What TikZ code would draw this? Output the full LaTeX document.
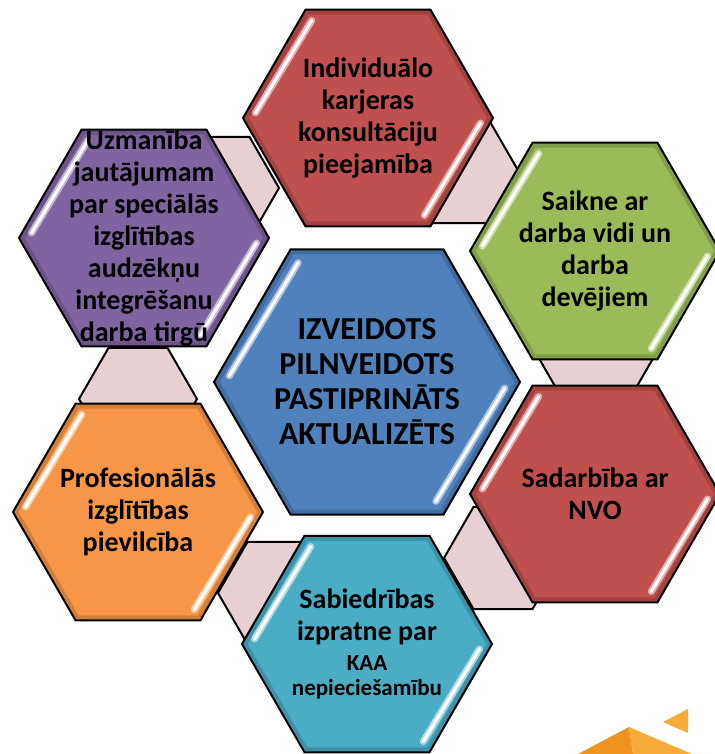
\documentclass[tikz,border=0pt]{standalone}
\usepackage{fontspec}
\setmainfont{Carlito}
\usetikzlibrary{calc}

\definecolor{hexred}{RGB}{192,80,77}
\definecolor{hexgreen}{RGB}{155,187,89}
\definecolor{hexpurple}{RGB}{128,100,162}
\definecolor{hexorange}{RGB}{247,150,70}
\definecolor{hexcyan}{RGB}{75,172,198}
\definecolor{hexblue}{RGB}{79,129,189}
\definecolor{bandpink}{RGB}{230,208,209}
\definecolor{logodark}{RGB}{240,146,30}
\definecolor{logolight}{RGB}{247,172,58}

\begin{document}
\begin{tikzpicture}[x=0.5pt,y=-0.5pt,
    hexa/.style 2 args={insert path={(#1) ++(0:#2) -- ++(120:#2) -- ++(180:#2) -- ++(240:#2) -- ++(300:#2) -- ++(0:#2) -- cycle}},
    hexline/.style={draw=black, line width=1pt},
    hextext/.style={font=\bfseries\fontsize{14}{16}\selectfont, align=center, text=black, inner sep=0pt}]
    \useasboundingbox (0,0) rectangle (714,754);

    % centres of the cells
    \coordinate (ccen) at (367,382);
    \coordinate (ctop) at (368,118);
    \coordinate (cur) at (595,251);
    \coordinate (clr) at (595,494);
    \coordinate (cbot) at (367,644);
    \coordinate (cll) at (138,512);
    \coordinate (cul) at (144,238);

    % small cells lying behind, between the outer ones
    \coordinate (b1) at (220,188);
    \coordinate (b2) at (460,172);
    \coordinate (b3) at (596,355);
    \coordinate (b4) at (503,558);
    \coordinate (b5) at (277,593);
    \coordinate (b6) at (138,399);
    \foreach \b in {b1,b2,b3,b4,b5,b6} {
        \path[hexa={\b}{59}, fill=bandpink, hexline];
    }

    \foreach \c/\col/\r in {ctop/hexred/125, cur/hexgreen/125, clr/hexred/125, cbot/hexcyan/125,
                            cll/hexorange/125, cul/hexpurple/125, ccen/hexblue/153} {
        \begin{scope}
            \clip[hexa={\c}{\r}];
            \fill[\col, hexa={\c}{\r}];
            \draw[\col!70!black, opacity=.5, line width=5pt, hexa={\c}{\r}];
        \end{scope}
        % gloss strokes
        \draw[\col!45!white, line width=3.5pt, line cap=round] ($(\c)+({-0.45*\r},{-0.78*\r})$) -- ($(\c)+({-0.9*\r},{-0.04*\r})$);
        \draw[white, line width=1.5pt, line cap=round] ($(\c)+({-0.45*\r},{-0.78*\r})$) -- ($(\c)+({-0.9*\r},{-0.04*\r})$);
        \draw[\col!45!white, line width=3.5pt, line cap=round] ($(\c)+({0.9*\r},{0.04*\r})$) -- ($(\c)+({0.45*\r},{0.78*\r})$);
        \draw[white, line width=1.5pt, line cap=round] ($(\c)+({0.9*\r},{0.04*\r})$) -- ($(\c)+({0.45*\r},{0.78*\r})$);
        \path[hexa={\c}{\r}, hexline];
    }

    \node[hextext] (ind) at (ctop) {Individuālo\\karjeras\\konsultāciju\\pieejamība};
    \node[hextext] (saik) at (cur) {Saikne ar\\darba vidi un\\darba\\devējiem};
    \node[hextext] (sad) at (clr) {Sadarbība ar\\NVO};
    \node[hextext] (sab) at (cbot) {Sabiedrības\\izpratne par\\[-1pt]{\fontsize{11.5}{13}\selectfont KAA}\\[-3.5pt]{\fontsize{11.5}{13}\selectfont nepieciešamību}};
    \node[hextext] (prof) at (cll) {Profesionālās\\izglītības\\pievilcība};
    \node[hextext] (uzm) at (cul) {Uzmanība\\jautājumam\\par speciālās\\izglītības\\audzēkņu\\integrēšanu\\darba tirgū};
    \node[hextext, font=\bfseries\fontsize{16}{17.5}\selectfont] (izv) at (ccen) {IZVEIDOTS\\PILNVEIDOTS\\PASTIPRINĀTS\\AKTUALIZĒTS};

    % corner of the logo
    \fill[logodark] (578,754) -- (629,727) -- (633,754) -- cycle;
    \fill[logolight] (629,727) -- (692,754) -- (633,754) -- cycle;
    \fill[logolight] (663,722) -- (688,709) -- (688,733) -- cycle;
\end{tikzpicture}
\end{document}
